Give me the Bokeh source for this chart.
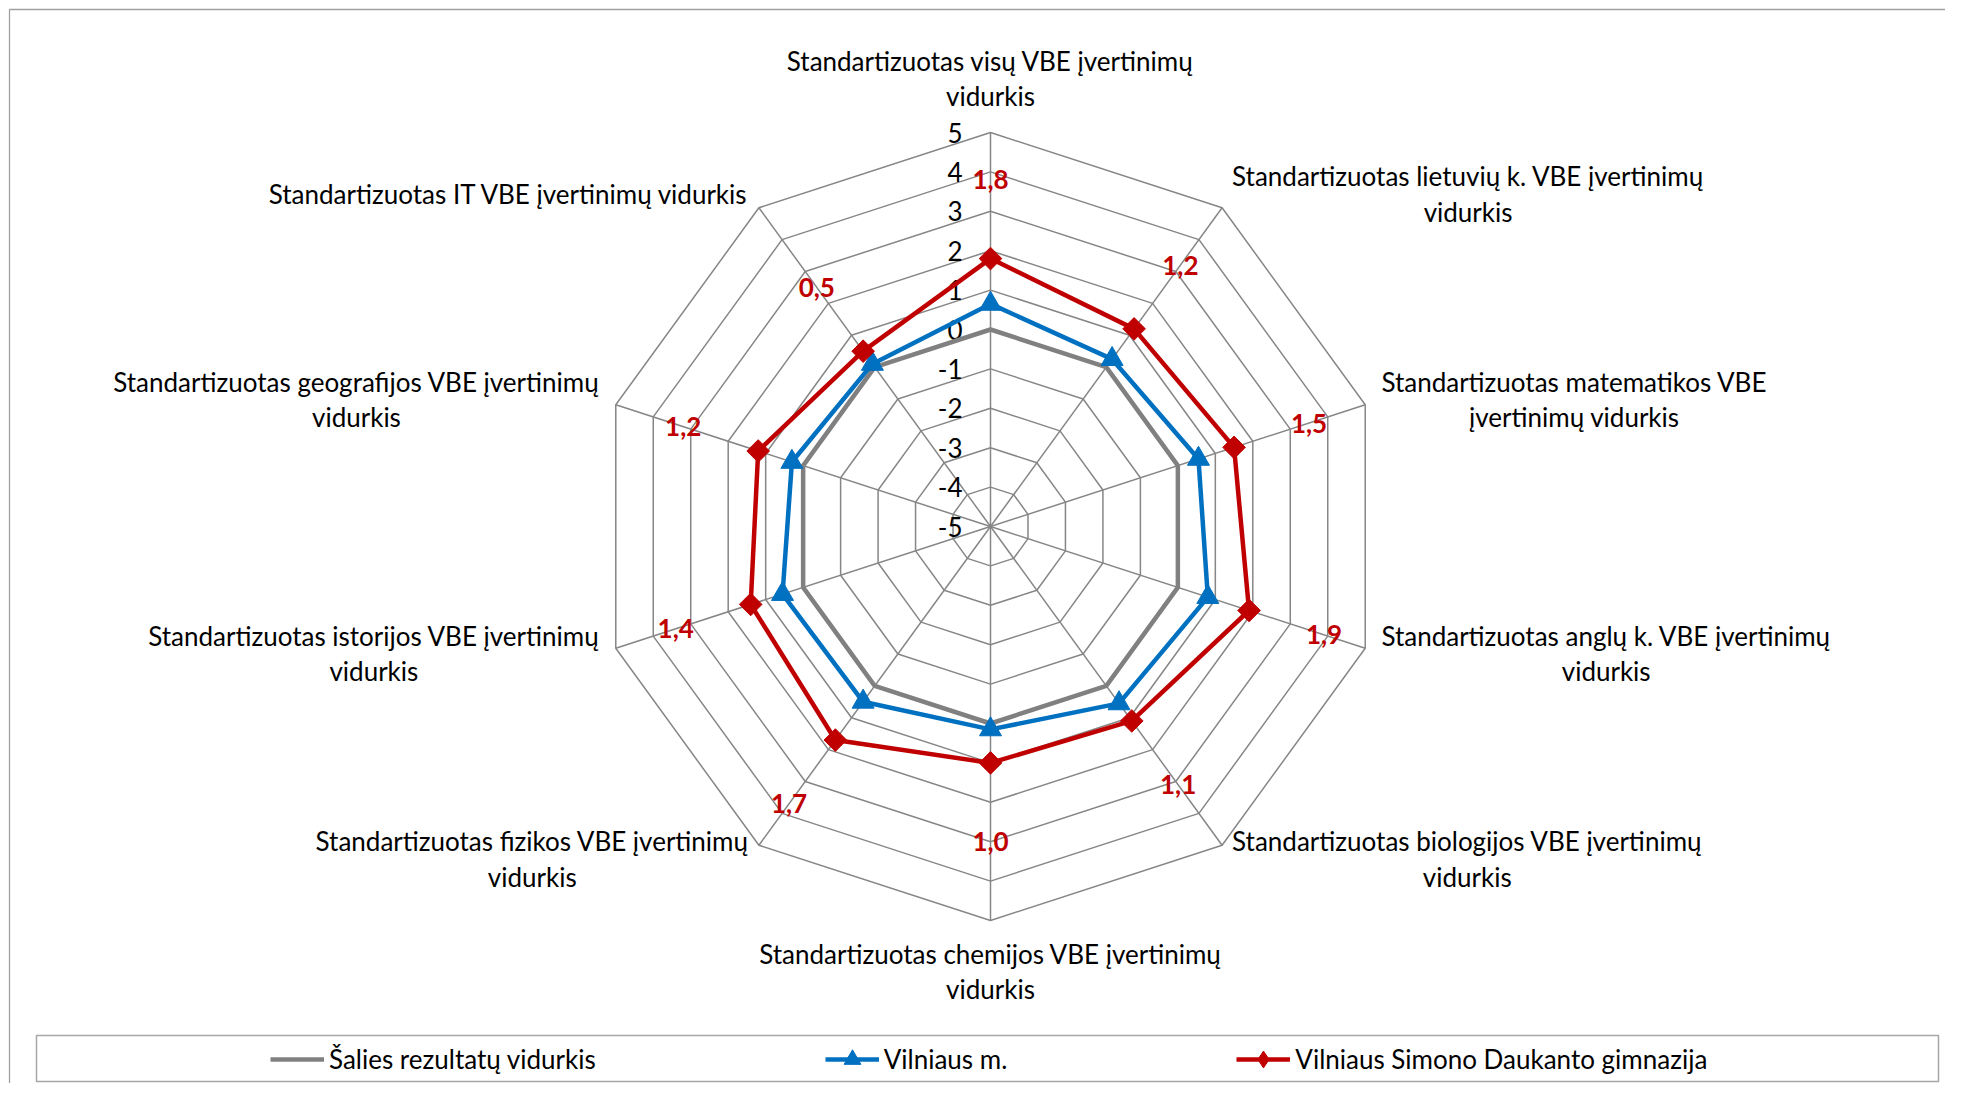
import math
from bokeh.plotting import figure
from bokeh.models import Range1d, Legend, LegendItem
from bokeh.core.properties import value
from bokeh.embed import file_html
from bokeh.resources import INLINE

# ---------------- data ----------------
categories = [
    "Standartizuotas visų VBE įvertinimų\nvidurkis",
    "Standartizuotas lietuvių k. VBE įvertinimų\nvidurkis",
    "Standartizuotas matematikos VBE\nįvertinimų vidurkis",
    "Standartizuotas anglų k. VBE įvertinimų\nvidurkis",
    "Standartizuotas biologijos VBE įvertinimų\nvidurkis",
    "Standartizuotas chemijos VBE įvertinimų\nvidurkis",
    "Standartizuotas fizikos VBE įvertinimų\nvidurkis",
    "Standartizuotas istorijos VBE įvertinimų\nvidurkis",
    "Standartizuotas geografijos VBE įvertinimų\nvidurkis",
    "Standartizuotas IT VBE įvertinimų vidurkis",
]
series_names = ["Šalies rezultatų vidurkis", "Vilniaus m.", "Vilniaus Simono Daukanto gimnazija"]
salies = [0, 0, 0, 0, 0, 0, 0, 0, 0, 0]
vilnius = [0.65, 0.25, 0.55, 0.8, 0.55, 0.15, 0.5, 0.55, 0.3, 0.1]
gimnazija = [1.8, 1.2, 1.5, 1.9, 1.1, 1.0, 1.7, 1.4, 1.2, 0.5]
gimnazija_labels = ["1,8", "1,2", "1,5", "1,9", "1,1", "1,0", "1,7", "1,4", "1,2", "0,5"]
ticks = [-5, -4, -3, -2, -1, 0, 1, 2, 3, 4, 5]
tick_labels = ["-5", "-4", "-3", "-2", "-1", "0", "1", "2", "3", "4", "5"]

# ---------------- layout ----------------
W, H = 1945, 1083
S = 39.4            # pixels per axis unit
CX, CY = 990, 526   # radar centre in figure pixels
AMIN = ticks[0]
FONT = "Lato"
FS = "26px"
GRID = "#868686"
COLORS = ["#808080", "#0070C0", "#C00000"]

n = len(categories)
angles = [2 * math.pi * i / n for i in range(n)]


def polar(v, a):
    r = v - AMIN
    return r * math.sin(a), r * math.cos(a)


def px_x(px):   # figure pixel -> data
    return (px - CX) / S


def px_y(py):
    return (CY - py) / S


p = figure(width=W, height=H, output_backend="svg", toolbar_location=None,
           x_range=Range1d(-CX / S, (W - CX) / S), y_range=Range1d(-(H - CY) / S, CY / S),
           min_border=0, x_axis_location=None, y_axis_location=None,
           outline_line_color=None, background_fill_color="white", border_fill_color="white")
p.grid.grid_line_color = None

# outer chart-area border (top and left visible)
p.line([px_x(9), px_x(9), px_x(1961)], [px_y(1099), px_y(9), px_y(9)], line_color="#A0A0A0", line_width=1.3)

# legend frame
p.quad(left=px_x(36), right=px_x(1938), top=px_y(1035), bottom=px_y(1081),
       fill_color="white", line_color="#A6A6A6", line_width=1.5)

# radar grid: rings and spokes
ring_xs, ring_ys = [], []
for t in ticks[1:]:
    pts = [polar(t, a) for a in angles] + [polar(t, angles[0])]
    ring_xs.append([q[0] for q in pts])
    ring_ys.append([q[1] for q in pts])
for a in angles:
    x1, y1 = polar(ticks[-1], a)
    ring_xs.append([0, x1])
    ring_ys.append([0, y1])
p.multi_line(ring_xs, ring_ys, line_color=GRID, line_width=1.5)

# tick labels
p.text(x=[-28 / S] * len(ticks), y=[t - AMIN for t in ticks], text=tick_labels,
       text_font=value(FONT), text_font_size=FS, text_color="black",
       text_align="right", text_baseline="middle")

# series
renderers = []
for vals, col in zip([salies, vilnius, gimnazija], COLORS):
    pts = [polar(v, a) for v, a in zip(vals, angles)]
    xs = [q[0] for q in pts] + [pts[0][0]]
    ys = [q[1] for q in pts] + [pts[0][1]]
    lr = p.line(xs, ys, line_color=col, line_width=4.5, line_join="round")
    renderers.append([lr, pts])

bx = [q[0] for q in renderers[1][1]]
by = [q[1] for q in renderers[1][1]]
br = p.scatter(bx, by, marker="triangle", size=22, fill_color=COLORS[1], line_color=COLORS[1])
rx = [q[0] for q in renderers[2][1]]
ry = [q[1] for q in renderers[2][1]]
rr = p.scatter(rx, ry, marker="square", size=16, angle=math.pi / 4,
               fill_color=COLORS[2], line_color=COLORS[2])
# legend-only diamond glyph (legend ignores marker angle)
rleg = p.scatter([float("nan")], [float("nan")], marker="diamond", size=20,
                 fill_color=COLORS[2], line_color=COLORS[2])

# data labels of school series
lab_pts = [polar(v + 2.0, a) for v, a in zip(gimnazija, angles)]
p.text(x=[q[0] for q in lab_pts], y=[q[1] for q in lab_pts], text=gimnazija_labels,
       text_font=value(FONT), text_font_size=FS, text_font_style="bold",
       text_color=COLORS[2], text_align="center", text_baseline="middle")

# category labels
groups = {"top": [], "bottom": [], "right": [], "left": []}
for i, a in enumerate(angles):
    deg = round(math.degrees(a))
    d = (20 if deg == 0 else 17) / S
    vx, vy = polar(ticks[-1], a)
    lx, ly = vx + d * math.sin(a), vy + d * math.cos(a)
    if deg == 0:
        key = "top"
    elif deg == 180:
        key = "bottom"
    elif deg < 180:
        key = "right"
    else:
        key = "left"
    groups[key].append((lx, ly, categories[i]))
anchors = {"top": "bottom_center", "bottom": "top_center", "right": "center_left", "left": "center_right"}
for key, items in groups.items():
    if not items:
        continue
    p.text(x=[it[0] for it in items], y=[it[1] for it in items], text=[it[2] for it in items],
           anchor=anchors[key], text_align="center", text_baseline="middle",
           text_font=value(FONT), text_font_size=FS, text_color="black",
           text_line_height=1.1)

# legend
legend = Legend(items=[
    LegendItem(label=series_names[0], renderers=[renderers[0][0]]),
    LegendItem(label=series_names[1], renderers=[renderers[1][0], br]),
    LegendItem(label=series_names[2], renderers=[renderers[2][0], rleg]),
], orientation="horizontal", location=(270, 3), margin=0, padding=0,
    spacing=229, glyph_width=54, glyph_height=42, label_standoff=5,
    label_text_font=FONT, label_text_font_size=FS, label_text_color="black",
    border_line_color=None, background_fill_alpha=0)
p.add_layout(legend, "center")

open("out.html", "w").write(file_html(p, INLINE))
